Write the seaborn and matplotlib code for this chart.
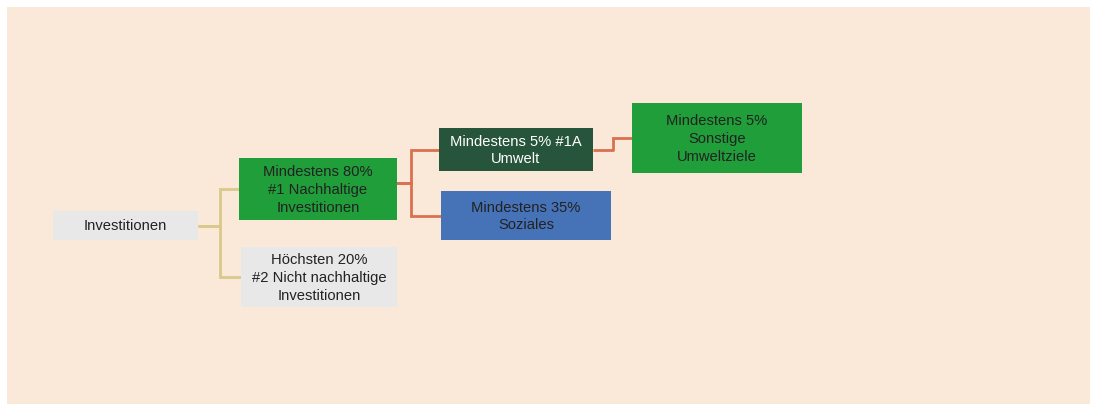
import matplotlib
matplotlib.use("Agg")
import matplotlib.pyplot as plt
import seaborn as sns
from matplotlib.patches import Rectangle

# tree data: node labels and parent links
nodes = ["root", "sust", "other", "env", "soc", "envother"]
labels = [
    "Investitionen",
    "Mindestens 80%\n#1 Nachhaltige\nInvestitionen",
    "Höchsten 20%\n#2 Nicht nachhaltige\nInvestitionen",
    "Mindestens 5% #1A\nUmwelt",
    "Mindestens 35%\nSoziales",
    "Mindestens 5%\nSonstige\nUmweltziele",
]
parents = [None, "root", "root", "sust", "sust", "env"]

# layout (pixel coords): left, top, right, bottom
layout = {
    "root": (53, 212, 198, 241),
    "sust": (239, 159, 397, 221),
    "other": (241, 248, 397, 308),
    "env": (439, 129, 593, 172),
    "soc": (441, 192, 611, 241),
    "envother": (632, 104, 802, 174),
}
fills = {
    "root": "#e8e8e8",
    "sust": "#1f9e3a",
    "other": "#e8e8e8",
    "env": "#27553b",
    "soc": "#4672b8",
    "envother": "#1f9e3a",
}
text_colors = {"env": "white"}
# connector: start x, elbow x, start y, line colour
connectors = {
    "root": (198, 220, 227, "#d9c98a"),
    "sust": (384, 411, 184, "#d9714f"),
    "env": (593, 613, 151, "#d9714f"),
}

sns.set_theme(style="white")
plt.rcParams["font.family"] = ["Liberation Sans", "DejaVu Sans"]

fig = plt.figure(figsize=(10.93, 4.06), dpi=100)
ax = fig.add_axes([0, 0, 1, 1])
ax.set_xlim(0, 1093)
ax.set_ylim(406, 0)
ax.axis("off")

ax.add_patch(Rectangle((7, 8), 1083, 397, facecolor="#fae8d8", edgecolor="none", zorder=0))

# connectors
for node, parent in zip(nodes, parents):
    if parent is None:
        continue
    x0, xe, py, col = connectors[parent]
    cl, ct, cr, cb = layout[node]
    cy = (ct + cb) / 2
    ax.plot([x0, xe], [py, py], color=col, lw=2, zorder=1, solid_capstyle="butt")
    ax.plot([xe, xe, cl], [py, cy, cy], color=col, lw=2, zorder=1, solid_joinstyle="miter")

# boxes
for node, label in zip(nodes, labels):
    l, t, r, b = layout[node]
    ax.add_patch(Rectangle((l, t), r - l, b - t, facecolor=fills[node], edgecolor="none", zorder=2))
    ax.text((l + r) / 2, (t + b) / 2, label, ha="center", va="center", fontsize=10.6,
            color=text_colors.get(node, "#222222"), linespacing=1.35, zorder=3)

fig.savefig("out.png", dpi=100, facecolor="white")
